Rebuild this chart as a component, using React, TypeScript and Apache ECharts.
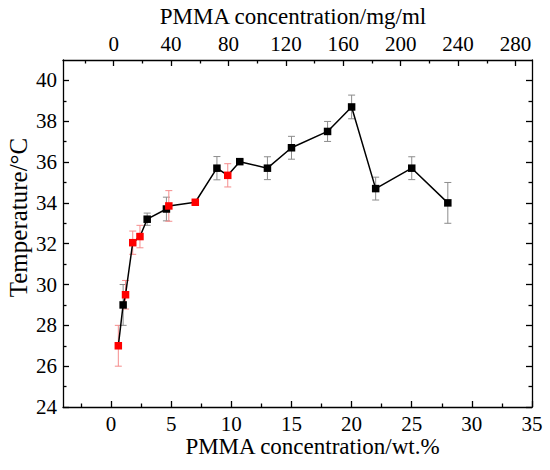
import React, { useEffect, useRef } from "react";
import * as echarts from "echarts";

// PMMA concentration (wt.%)
const concWt = [0.6, 1.0, 1.2, 1.8, 2.4, 3.0, 4.6, 4.8, 7.0, 8.8, 9.7, 10.7, 13, 15, 18, 20, 22, 25, 28];
// Temperature (°C)
const temperature = [27.0, 29.0, 29.5, 32.05, 32.35, 33.2, 33.7, 33.85, 34.03, 35.7, 35.35, 36.02, 35.7, 36.7, 37.5, 38.7, 34.7, 35.7, 34.0];
// error (±°C)
const errors = [1.0, 1.0, 0.7, 0.57, 0.55, 0.3, 0.58, 0.75, 0.1, 0.57, 0.57, 0.1, 0.56, 0.56, 0.49, 0.58, 0.56, 0.56, 1.0];
// marker group: 1 = red, 0 = black
const groups = [1, 0, 1, 1, 1, 0, 0, 1, 1, 0, 1, 0, 0, 0, 0, 0, 0, 0, 0];

const bottomTicks = [0, 5, 10, 15, 20, 25, 30, 35];
const bottomMinor = [-2.5, 2.5, 7.5, 12.5, 17.5, 22.5, 27.5, 32.5];
const topTicks = [0, 40, 80, 120, 160, 200, 240, 280];
const topMinor = [-20, 20, 60, 100, 140, 180, 220, 260];
const yTicks = [24, 26, 28, 30, 32, 34, 36, 38, 40];
const yMinor = [25, 27, 29, 31, 33, 35, 37, 39];

const FONT = "'Liberation Serif', 'Times New Roman', serif";
const markerColors = ["#000000", "#ff0000"];
const errColors = ["#8c8c8c", "#f58c8c"];

export default function App() {
  const ref = useRef<HTMLDivElement>(null);
  useEffect(() => {
    if (!ref.current) return;
    const chart = echarts.init(ref.current, null, { renderer: "svg" });
    const lineStyle = { color: "#000", width: 1.3 };
    const majorLen = 6;
    const minorLen = 3.5;
    const mkX = (pos: string, min: number, max: number, ticks: number[], len: number, line: boolean, extra: any = {}) => ({
      type: "value",
      position: pos,
      min,
      max,
      axisLine: { show: line, onZero: false, lineStyle },
      axisTick: { show: true, inside: true, length: len, customValues: ticks, lineStyle },
      axisLabel: { show: false },
      splitLine: { show: false },
      ...extra,
    });
    const mkY = (pos: string, ticks: number[], len: number, line: boolean, extra: any = {}) => ({
      type: "value",
      position: pos,
      min: 24,
      max: 41,
      axisLine: { show: line, onZero: false, lineStyle },
      axisTick: { show: true, inside: true, length: len, customValues: ticks, lineStyle },
      axisLabel: { show: false },
      splitLine: { show: false },
      ...extra,
    });
    const nameStyle = { color: "#000", fontSize: 23, fontFamily: FONT };

    const pts = concWt.map((x, i) => [x, temperature[i], errors[i], groups[i]]);

    chart.setOption({
      animation: false,
      backgroundColor: "#fff",
      textStyle: { fontFamily: FONT, color: "#000" },
      grid: { left: 63, right: 18, top: 60, bottom: 63, containLabel: false, outerBoundsMode: "none" },
      xAxis: [
        mkX("bottom", -4, 35, bottomTicks, majorLen, true, {
          name: "PMMA concentration/wt.%",
          nameLocation: "middle",
          nameGap: 28,
          nameTextStyle: { ...nameStyle, padding: [0, 0, 0, 30] },
        }),
        mkX("bottom", -4, 35, bottomMinor, minorLen, false),
        mkX("top", -35.3, 291.5, topTicks, majorLen, true, {
          name: "PMMA concentration/mg/ml",
          nameLocation: "middle",
          nameGap: 32,
          nameTextStyle: { ...nameStyle, padding: [0, 9, 0, 0] },
        }),
        mkX("top", -35.3, 291.5, topMinor, minorLen, false),
      ],
      yAxis: [
        mkY("left", yTicks, majorLen, true, {
          name: "Temperature/°C",
          nameLocation: "middle",
          nameGap: 32,
          nameTextStyle: { ...nameStyle, fontSize: 25, padding: [0, 0, 0, 32] },
        }),
        mkY("left", yMinor, minorLen, false),
        mkY("right", yTicks, majorLen, true),
        mkY("right", yMinor, minorLen, false),
      ],
      series: [
        {
          type: "custom",
          xAxisIndex: 0,
          yAxisIndex: 0,
          z: 1,
          encode: { x: 0, y: 1 },
          data: pts,
          renderItem: (params: any, api: any) => {
            const x = api.value(0);
            const y = api.value(1);
            const e = api.value(2);
            const g = api.value(3);
            const top = api.coord([x, y + e]);
            const bot = api.coord([x, y - e]);
            const half = 3.5;
            const style = { stroke: errColors[g], lineWidth: 1 };
            return {
              type: "group",
              children: [
                { type: "line", shape: { x1: top[0], y1: top[1], x2: bot[0], y2: bot[1] }, style },
                { type: "line", shape: { x1: top[0] - half, y1: top[1], x2: top[0] + half, y2: top[1] }, style },
                { type: "line", shape: { x1: bot[0] - half, y1: bot[1], x2: bot[0] + half, y2: bot[1] }, style },
              ],
            };
          },
        },
        {
          type: "line",
          xAxisIndex: 0,
          yAxisIndex: 0,
          z: 3,
          symbol: "rect",
          symbolSize: 7.5,
          lineStyle: { color: "#000", width: 1.5 },
          data: pts.map((p) => ({
            value: [p[0], p[1]],
            itemStyle: { color: markerColors[p[3]], borderWidth: 0 },
          })),
        },
      ],
    });

    // Tick labels placed at the axes' own scale positions, as serif text
    const gridRect = { left: 63, top: 60, bottom: 470 - 63 };
    const lbl = (text: string, x: number, y: number, align: string, vAlign: string) => ({
      type: "text",
      x,
      y,
      silent: true,
      style: {
        text,
        fill: "#000",
        fontSize: 21,
        fontFamily: FONT,
        align,
        textAlign: align,
        verticalAlign: vAlign,
        textVerticalAlign: vAlign,
      },
    });
    const labels: any[] = [];
    bottomTicks.forEach((v) => {
      const px = chart.convertToPixel({ xAxisIndex: 0 }, v) as number;
      labels.push(lbl(String(v), px, gridRect.bottom + 6, "center", "top"));
    });
    topTicks.forEach((v) => {
      const px = chart.convertToPixel({ xAxisIndex: 2 }, v) as number;
      labels.push(lbl(String(v), px, gridRect.top - 6, "center", "bottom"));
    });
    yTicks.forEach((v) => {
      const py = chart.convertToPixel({ yAxisIndex: 0 }, v) as number;
      labels.push(lbl(String(v), gridRect.left - 6, py, "right", "middle"));
    });
    chart.setOption({ graphic: labels });

    return () => chart.dispose();
  }, []);
  return <div ref={ref} style={{ position: "fixed", left: 0, top: 0, width: 550, height: 470 }} />;
}
